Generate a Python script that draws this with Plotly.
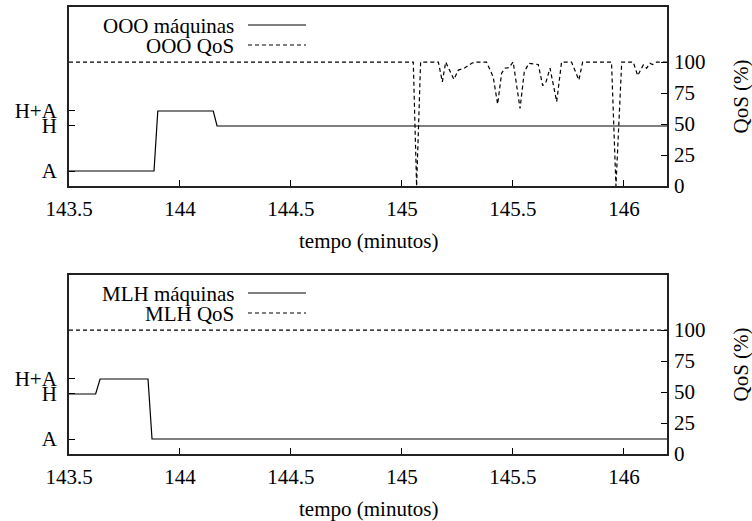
import plotly.graph_objects as go

# ---- data -------------------------------------------------------------
# OOO policy: machines in use (1 = A, 4 = H, 5 = H+A) and QoS (%)
ooo_maq_t = [143.5, 143.883, 143.90, 144.15, 144.167, 146.2]
ooo_maq_v = [1, 1, 5, 5, 4, 4]

ooo_qos_t = [143.5, 145.051, 145.066, 145.084, 145.164, 145.182, 145.197,
             145.234, 145.254, 145.284, 145.314, 145.33, 145.381, 145.401,
             145.411, 145.431, 145.449, 145.464, 145.482, 145.501, 145.532,
             145.551, 145.572, 145.614, 145.634, 145.649, 145.667, 145.697,
             145.719, 145.764, 145.797, 145.814, 145.944, 145.964, 145.99,
             146.042, 146.062, 146.087, 146.102, 146.117, 146.129, 146.147,
             146.2]
ooo_qos_v = [100, 100, 0, 100, 100, 84, 100,
             86, 93.5, 95.4, 99, 100, 100, 92.7,
             88, 66, 91, 95, 95.5, 100, 62.6,
             92, 99, 98, 81, 84, 95, 68,
             100, 100, 85.5, 100, 100, 0, 100,
             100, 89, 97.6, 95, 99, 98, 100,
             100]

# MLH policy
mlh_maq_t = [143.5, 143.62, 143.64, 143.856, 143.874, 146.2]
mlh_maq_v = [4, 4, 5, 5, 1, 1]

mlh_qos_t = [143.5, 146.2]
mlh_qos_v = [100, 100]

x_ticks = [143.5, 144, 144.5, 145, 145.5, 146]
x_tick_text = ["143.5", "144", "144.5", "145", "145.5", "146"]
maq_ticks = [1, 4, 5]
maq_tick_text = ["A", "H", "H+A"]
qos_ticks = [0, 25, 50, 75, 100]
qos_tick_text = ["0", "25", "50", "75", "100"]

# ---- layout geometry ---------------------------------------------------
W, H = 752, 521
FONT = dict(family="Liberation Serif, Times New Roman, serif", size=21, color="black")
DASH = "4px,3px"

px_left, px_right = 69, 667
panels = [(7, 186), (275, 454)]  # top/bottom pixel rows of each plot box


def fx(px):
    return px / W


def fy(py):
    return 1 - py / H


fig = go.Figure()

series = [
    ("OOO", ooo_maq_t, ooo_maq_v, ooo_qos_t, ooo_qos_v),
    ("MLH", mlh_maq_t, mlh_maq_v, mlh_qos_t, mlh_qos_v),
]

layout = dict(
    width=W, height=H,
    margin=dict(l=0, r=0, t=0, b=0, autoexpand=False),
    paper_bgcolor="white", plot_bgcolor="white",
    font=FONT, showlegend=False,
    annotations=[], shapes=[],
)

for i, (name, mt, mv, qt, qv) in enumerate(series):
    xa = "x" if i == 0 else f"x{i + 1}"
    ya_l = f"y{2 * i + 1}" if i else "y"
    ya_r = f"y{2 * i + 2}"
    fig.add_trace(go.Scatter(x=mt, y=mv, mode="lines", xaxis=xa, yaxis=ya_l,
                             line=dict(color="black", width=1.2),
                             name=f"{name} máquinas"))
    fig.add_trace(go.Scatter(x=qt, y=qv, mode="lines", xaxis=xa, yaxis=ya_r,
                             line=dict(color="black", width=1.2, dash=DASH),
                             name=f"{name} QoS"))

    top, bot = panels[i]
    dom_y = [fy(bot), fy(top)]
    xkey = "xaxis" if i == 0 else f"xaxis{i + 1}"
    ylkey = "yaxis" if i == 0 else f"yaxis{2 * i + 1}"
    yrkey = f"yaxis{2 * i + 2}"

    layout[xkey] = dict(
        domain=[fx(px_left), fx(px_right)], anchor=ya_l, automargin=False,
        range=[143.5, 146.194], tickmode="array", tickvals=x_ticks,
        ticktext=x_tick_text, ticks="inside", ticklen=6, tickcolor="black",
        showline=True, mirror=True, linecolor="#222", linewidth=1.8,
        showgrid=False, zeroline=False, ticklabelstandoff=3,
    )
    layout[ylkey] = dict(
        domain=dom_y, anchor=xa, range=[0, 11.93], automargin=False,
        tickmode="array", tickvals=maq_ticks, ticktext=maq_tick_text,
        ticks="inside", ticklen=6, tickcolor="black",
        showline=True, mirror=True, linecolor="#222", linewidth=1.8,
        showgrid=False, zeroline=False, ticklabelstandoff=6,
    )
    layout[yrkey] = dict(
        overlaying=ya_l, side="right", anchor=xa, range=[0, 144.4],
        automargin=False,
        tickmode="array", tickvals=qos_ticks, ticktext=qos_tick_text,
        ticks="inside", ticklen=6, tickcolor="black",
        showline=False, showgrid=False, zeroline=False, ticklabelstandoff=6,
    )

    # axis titles
    layout["annotations"].append(dict(
        text="tempo (minutos)", xref="paper", yref="paper",
        x=fx((px_left + px_right) / 2), y=fy(bot + 55), showarrow=False,
        xanchor="center", yanchor="middle", font=FONT))
    layout["annotations"].append(dict(
        text="QoS (%)", xref="paper", yref="paper", textangle=-90,
        x=fx(740), y=fy((top + bot) / 2), showarrow=False,
        xanchor="center", yanchor="middle", font=FONT))

    # key inside the box: label right-aligned, line sample to its right
    for j, (label, dash) in enumerate([(f"{name} máquinas", "solid"),
                                        (f"{name} QoS", DASH)]):
        ky = top + 19 + 20 * j
        layout["annotations"].append(dict(
            text=label, xref="paper", yref="paper", x=fx(236), y=fy(ky),
            showarrow=False, xanchor="right", yanchor="middle", font=FONT))
        layout["shapes"].append(dict(
            type="line", xref="paper", yref="paper",
            x0=fx(248), x1=fx(306), y0=fy(ky - 1), y1=fy(ky - 1),
            line=dict(color="black", width=1.2, dash=dash)))

fig.update_layout(**layout)
fig.write_html("out.html")
